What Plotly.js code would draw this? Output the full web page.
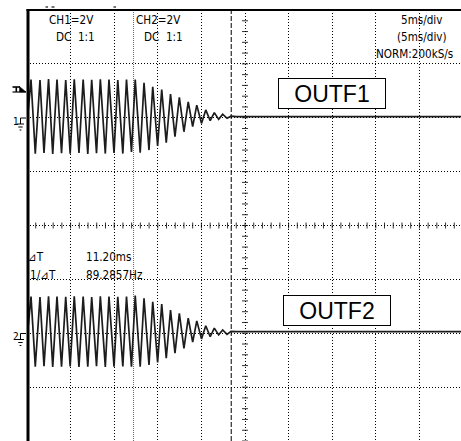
<!DOCTYPE html>
<html>
<head>
<meta charset="utf-8">
<script src="https://cdn.plot.ly/plotly-3.0.1.min.js"></script>
<style>
  html, body { margin: 0; padding: 0; background: #fff; }
  #chart { width: 461px; height: 441px; }
</style>
</head>
<body>
<div id="chart"></div>
<script>
// ---- data (time in ms, voltage in V) ----
const peakTimes   = [-24.54,-23.51,-22.53,-21.56,-20.56,-19.58,-18.56,-17.58,-16.59,-15.60,-14.59,-13.59,-12.59,-11.58,-10.58,-9.55,-8.54,-7.53,-6.51,-5.53,-4.50,-3.52,-2.56];
const troughTimes = [-24.05,-23.05,-22.05,-21.04,-20.05,-19.04,-18.03,-17.03,-16.02,-15.02,-14.01,-13.02,-12.02,-11.01,-10.02,-9.03,-8.03,-7.00,-6.00,-4.99,-3.99,-3.02,-2.06];

const ch1PeakV   = [1.42,1.40,1.44,1.42,1.40,1.43,1.42,1.41,1.43,1.42,1.40,1.42,1.42,1.30,1.15,1.05,0.88,0.76,0.59,0.47,0.29,0.19,0.13];
const ch1TroughV = [-1.33,-1.31,-1.34,-1.32,-1.33,-1.31,-1.34,-1.32,-1.33,-1.31,-1.33,-1.27,-1.30,-1.20,-1.05,-0.93,-0.70,-0.52,-0.33,-0.21,-0.11,-0.06,-0.02];
const ch2PeakV   = [1.36,1.34,1.37,1.36,1.35,1.37,1.36,1.34,1.37,1.36,1.35,1.36,1.40,1.30,1.17,1.08,0.86,0.74,0.56,0.46,0.28,0.19,0.12];
const ch2TroughV = [-1.24,-1.22,-1.25,-1.24,-1.23,-1.25,-1.24,-1.22,-1.25,-1.24,-1.23,-1.24,-1.24,-1.18,-1.08,-0.93,-0.74,-0.56,-0.33,-0.21,-0.13,-0.06,-0.04];

const startT = [-24.85];
const ch1StartV = [0.30];
const ch2StartV = [0.30];
const tailT   = [-1.60,-1.00,3.00,10.00,17.00,24.80];
const ch1TailV = [0.06,0.04,0.04,0.05,0.04,0.04];
const ch2TailV = [0.07,0.06,0.06,0.05,0.06,0.06];

const cursorA = -12.78, cursorB = -1.58;   // ms
const labelsTopLeft = ["CH1=2V","DC\u00a0\u00a01:1","CH2=2V","DC\u00a0\u00a01:1"];
const labelsTopRight = ["5ms/div","(5ms/div)","NORM:200kS/s"];
const cursorLabels = ["\u22bfT","11.20ms","1/\u22bfT","89.2857Hz"];
const boxLabels = ["OUTF1","OUTF2"];

// ---- build waveform ----
function wave(sv, pv, tv, tailV) {
  const x = [startT[0]], y = [sv[0]];
  for (let i = 0; i < peakTimes.length; i++) {
    x.push(peakTimes[i]); y.push(pv[i]);
    x.push(troughTimes[i]); y.push(tv[i]);
  }
  for (let i = 0; i < tailT.length; i++) { x.push(tailT[i]); y.push(tailV[i]); }
  return {x, y};
}
const w1 = wave(ch1StartV, ch1PeakV, ch1TroughV, ch1TailV);
const w2 = wave(ch2StartV, ch2PeakV, ch2TroughV, ch2TailV);

const traces = [
  {x: w1.x, y: w1.y, type: 'scatter', mode: 'lines', yaxis: 'y',
   line: {color: '#1c1c1c', width: 1.7}, hoverinfo: 'skip'},
  {x: w2.x, y: w2.y, type: 'scatter', mode: 'lines', yaxis: 'y2',
   line: {color: '#1c1c1c', width: 1.7}, hoverinfo: 'skip'}
];

// pixel -> paper helpers (plot area 27..461 x 10..441)
const PX = p => (p - 27) / 434;
const PY = p => (441 - p) / 431;

const shapes = [];
// centre axis ticks (vertical axis at t=0, every 0.2 div = 0.4 V on CH1 scale)
for (let k = 0; k <= 40; k++) {
  const v = -12 + k * 0.4;
  shapes.push({type: 'line', layer: 'below', xref: 'x', yref: 'y', xsizemode: 'pixel', xanchor: 0,
    x0: -3, x1: 3, y0: v, y1: v, line: {color: '#333', width: 1}});
}
// centre horizontal ticks every 1 ms at CH1 -4 V (screen centre)
for (let k = 0; k <= 50; k++) {
  const t = -25 + k;
  shapes.push({type: 'line', layer: 'below', xref: 'x', yref: 'y', ysizemode: 'pixel', yanchor: -4,
    x0: t, x1: t, y0: -3, y1: 3, line: {color: '#333', width: 1}});
}
// cursors
shapes.push({type: 'line', layer: 'below', xref: 'x', yref: 'paper', x0: cursorA, x1: cursorA, y0: 0, y1: 1,
  line: {color: '#666', width: 1, dash: '1px,1px'}});
shapes.push({type: 'line', layer: 'below', xref: 'x', yref: 'paper', x0: cursorB, x1: cursorB, y0: 0, y1: 1,
  line: {color: '#000', width: 1, dash: '5px,2px'}});
// frame
shapes.push({type: 'line', xref: 'paper', yref: 'paper', x0: PX(28), x1: PX(28), y0: 0, y1: PY(9),
  line: {color: '#000', width: 3}});
shapes.push({type: 'line', xref: 'paper', yref: 'paper', x0: PX(26.5), x1: 1.01, y0: PY(10), y1: PY(10),
  line: {color: '#000', width: 2}});
// tiny marks above frame
[[45.5,48],[51.5,54.5],[113.5,116]].forEach(s => shapes.push({type: 'line', xref: 'paper', yref: 'paper',
  x0: PX(s[0]), x1: PX(s[1]), y0: PY(7), y1: PY(7), line: {color: '#444', width: 1.5}}));

// trigger marker "T" with arrow
function seg(x0, y0, x1, y1, w) {
  shapes.push({type: 'line', xref: 'paper', yref: 'paper', x0: PX(x0), x1: PX(x1), y0: PY(y0), y1: PY(y1),
    line: {color: '#000', width: w}});
}
seg(12.5, 87, 20, 87, 1.6);
seg(16.3, 87, 16.3, 92, 1.6);
seg(12.5, 92, 26, 92, 1.2);
shapes.push({type: 'path', xref: 'paper', yref: 'paper',
  path: `M ${PX(19.5)} ${PY(86.5)} L ${PX(19.5)} ${PY(92)} L ${PX(26)} ${PY(92)} Z`,
  fillcolor: '#000', line: {color: '#000', width: 0.5}});
// ground markers
function ground(yy) {
  seg(20.5, yy, 26, yy, 1);
  seg(20.5, yy, 20.5, yy + 6, 1);
  seg(17, yy + 6, 24, yy + 6, 1);
  seg(18.3, yy + 9, 22.7, yy + 9, 1);
  seg(19.6, yy + 12, 21.4, yy + 12, 1);
}
ground(118);
ground(333.5);

const fnt = {family: 'DejaVu Sans Condensed, Liberation Sans Narrow, sans-serif', size: 11.6, color: '#000'};
const annotations = [];
function txt(text, x, y, anchor, f) {
  annotations.push({text, xref: 'paper', yref: 'paper', x: PX(x), y: PY(y),
    xanchor: anchor, yanchor: 'middle', showarrow: false, font: f || fnt, borderpad: 0});
}
txt(labelsTopLeft[0], 47.5, 20, 'left');
txt(labelsTopLeft[1], 54.5, 36.7, 'left');
txt(labelsTopLeft[2], 134.5, 20, 'left');
txt(labelsTopLeft[3], 142.5, 36.7, 'left');
txt(labelsTopRight[0], 443, 19.5, 'right');
txt(labelsTopRight[1], 447.5, 36.5, 'right');
txt(labelsTopRight[2], 453.5, 54, 'right');
txt(cursorLabels[0], 27, 257, 'left');
txt(cursorLabels[1], 84.5, 257, 'left');
txt(cursorLabels[2], 28.5, 274.7, 'left');
txt(cursorLabels[3], 84.5, 274.7, 'left');
const small = {family: 'DejaVu Sans Condensed, sans-serif', size: 10, color: '#000'};
txt("1", 11.5, 121, 'left', small);
txt("2", 11.5, 336.5, 'left', small);

const boxFont = {family: 'Liberation Sans, Arial, sans-serif', size: 23, color: '#000'};
[[boxLabels[0], 332, 93.8], [boxLabels[1], 337, 310.5]].forEach(b => annotations.push({
  text: b[0], xref: 'paper', yref: 'paper', x: PX(b[1]), y: PY(b[2]), xanchor: 'center', yanchor: 'middle',
  showarrow: false, font: boxFont, bgcolor: '#fff', bordercolor: '#000', borderwidth: 1, borderpad: 0,
  width: 106, height: 29, align: 'center', valign: 'middle'}));

const gridAxis = {showgrid: true, gridcolor: '#000', gridwidth: 1, griddash: '1px,2px',
  showticklabels: false, ticks: '', zeroline: false, showline: false, fixedrange: true};

const layout = {
  width: 461, height: 441,
  margin: {l: 27, r: 0, t: 10, b: 0, pad: 0},
  paper_bgcolor: '#fff', plot_bgcolor: '#fff',
  showlegend: false,
  xaxis: Object.assign({}, gridAxis, {range: [-25, 24.77], dtick: 5, tick0: 0}),
  yaxis: Object.assign({}, gridAxis, {range: [-12, 4], dtick: 2, tick0: 0}),
  yaxis2: {overlaying: 'y', range: [-4, 12], showgrid: false, showticklabels: false, ticks: '',
    zeroline: false, showline: false, fixedrange: true},
  shapes, annotations
};

Plotly.newPlot('chart', traces, layout, {displayModeBar: false, staticPlot: true});
</script>
</body>
</html>
